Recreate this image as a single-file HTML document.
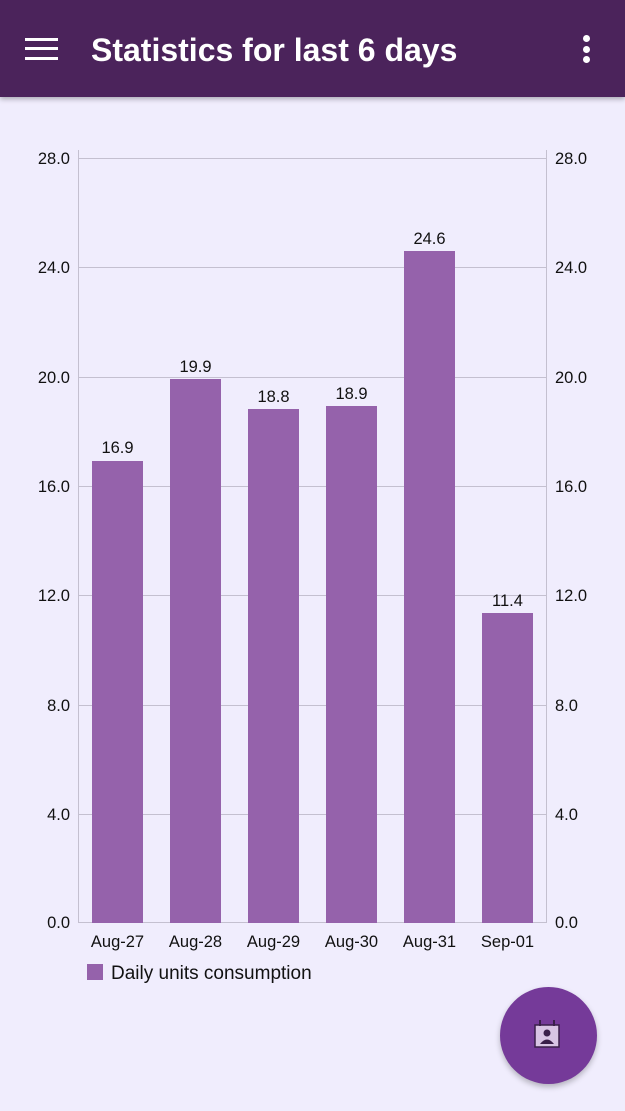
<!DOCTYPE html>
<html><head><style>
html,body{margin:0;padding:0;width:625px;height:1111px;overflow:hidden;background:#f0edfd;font-family:"Liberation Sans",sans-serif}
.hdr{position:absolute;left:0;top:0;width:625px;height:97px;background:#4b235b;box-shadow:0 2px 5px rgba(0,0,0,0.3)}
.ham{position:absolute;left:25px;width:33px;height:3px;background:#fff}
.title{position:absolute;left:91px;top:32px;font-size:32px;font-weight:bold;color:#fff;letter-spacing:0px}
.dot{position:absolute;left:583px;width:7px;height:7px;border-radius:50%;background:#fff}
.fab{position:absolute;left:500px;top:987px;width:97px;height:97px;border-radius:50%;background:#753a99;box-shadow:0 3px 6px rgba(0,0,0,0.25)}
</style></head><body>
<div class="hdr">
<div class="ham" style="top:38px"></div><div class="ham" style="top:47px"></div><div class="ham" style="top:57px"></div>
<div class="title">Statistics for last 6 days</div>
<div class="dot" style="top:35px"></div><div class="dot" style="top:46px"></div><div class="dot" style="top:56px"></div>
</div>
<svg width="625" height="1111" style="position:absolute;left:0;top:0" font-family="Liberation Sans, sans-serif">
<g stroke="#c4c0d0" stroke-width="1">
<line x1="78" y1="158.5" x2="546" y2="158.5"/>
<line x1="78" y1="267.5" x2="546" y2="267.5"/>
<line x1="78" y1="377.5" x2="546" y2="377.5"/>
<line x1="78" y1="486.5" x2="546" y2="486.5"/>
<line x1="78" y1="595.5" x2="546" y2="595.5"/>
<line x1="78" y1="705.5" x2="546" y2="705.5"/>
<line x1="78" y1="814.5" x2="546" y2="814.5"/>
<line x1="78" y1="922.5" x2="546" y2="922.5"/>
<line x1="78.5" y1="150" x2="78.5" y2="923"/>
<line x1="546.5" y1="150" x2="546.5" y2="923"/>
</g>
<g fill="#9562ab">
<rect x="92" y="461" width="51" height="462"/>
<rect x="170" y="379" width="51" height="544"/>
<rect x="248" y="409" width="51" height="514"/>
<rect x="326" y="406" width="51" height="517"/>
<rect x="404" y="251" width="51" height="672"/>
<rect x="482" y="613" width="51" height="310"/>
</g>
<g font-size="16.5" fill="#111" text-anchor="middle">
<text x="117.5" y="453">16.9</text>
<text x="195.5" y="372">19.9</text>
<text x="273.5" y="402">18.8</text>
<text x="351.5" y="399">18.9</text>
<text x="429.5" y="244">24.6</text>
<text x="507.5" y="606">11.4</text>
</g>
<g font-size="16.5" fill="#111" text-anchor="end">
<text x="70" y="164">28.0</text><text x="70" y="273">24.0</text><text x="70" y="383">20.0</text><text x="70" y="492">16.0</text>
<text x="70" y="601">12.0</text><text x="70" y="711">8.0</text><text x="70" y="820">4.0</text><text x="70" y="928">0.0</text>
</g>
<g font-size="16.5" fill="#111">
<text x="555" y="164">28.0</text><text x="555" y="273">24.0</text><text x="555" y="383">20.0</text><text x="555" y="492">16.0</text>
<text x="555" y="601">12.0</text><text x="555" y="711">8.0</text><text x="555" y="820">4.0</text><text x="555" y="928">0.0</text>
</g>
<g font-size="16.5" fill="#111" text-anchor="middle">
<text x="117.5" y="947">Aug-27</text><text x="195.5" y="947">Aug-28</text><text x="273.5" y="947">Aug-29</text>
<text x="351.5" y="947">Aug-30</text><text x="429.5" y="947">Aug-31</text><text x="507.5" y="947">Sep-01</text>
</g>
<rect x="87" y="964" width="16" height="16" fill="#9562ab"/>
<text x="111" y="979" font-size="19" fill="#111">Daily units consumption</text>
</svg>
<div class="fab">
<svg width="97" height="97" style="position:absolute;left:0;top:0">
<rect x="35" y="38" width="24" height="22" fill="#d8c4e4" stroke="#3a1f4a" stroke-width="1.5"/>
<line x1="40" y1="33" x2="40" y2="39" stroke="#3a1f4a" stroke-width="2"/>
<line x1="54" y1="33" x2="54" y2="39" stroke="#3a1f4a" stroke-width="2"/>
<circle cx="47" cy="46" r="3.5" fill="#3a1f4a"/>
<path d="M40 57 Q47 48 54 57 Z" fill="#3a1f4a"/>
</svg>
</div>
</body></html>
